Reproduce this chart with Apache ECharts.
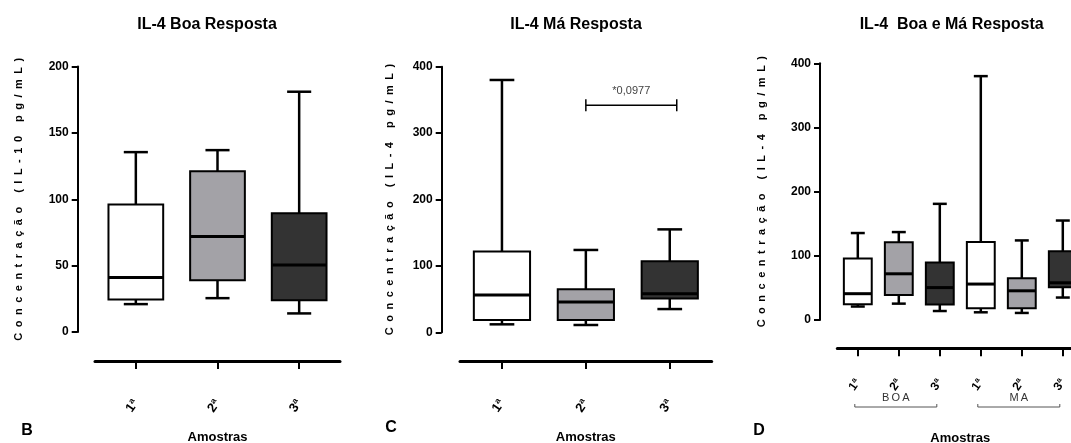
<!DOCTYPE html>
<html>
<head>
<meta charset="utf-8">
<script src="https://cdn.jsdelivr.net/npm/echarts@6/dist/echarts.min.js"></script>
<style>
  html, body { margin: 0; padding: 0; background: #fff; }
  #chart { width: 1071px; height: 443px; }
</style>
</head>
<body>
<div id="chart"></div>
<script>
// Sample labels and group names
const categories = ['1ª', '2ª', '3ª'];
const groupNames = ['BOA', 'MA'];

// Five-number summaries per sample: [min, Q1, median, Q3, max]
const boaStats = [
  [21, 24.5, 41, 96, 135.5],
  [25.5, 39, 72, 121, 137],
  [14, 24, 50.5, 89.5, 181]
];
const maStats = [
  [12, 18.5, 56, 121.5, 380],
  [11, 18.5, 45.5, 65, 124],
  [35, 51, 58, 107, 155]
];

// Y axis tick values
const boaTicks = [0, 50, 100, 150, 200];
const maTicks = [0, 100, 200, 300, 400];

// Comparison bracket between 2ª and 3ª (Má Resposta)
const comparisonPair = [1, 2];
const comparisonLevel = 342;
const comparisonText = '*0,0977';

const NARROW = '"Liberation Sans Narrow", "Liberation Sans", Arial, sans-serif';
const SANS = '"Liberation Sans", Arial, sans-serif';
const boxFills = ['#ffffff', '#a3a2a7', '#333333'];

const spaced = (s, sep) => Array.from(s).join(sep);

function boxRenderer(widthRatio, capRatio) {
  return function (params, api) {
    const cat = api.value(0);
    const yOf = (v) => api.coord([cat, v])[1];
    const cx = api.coord([cat, 0])[0];
    const yMin = yOf(api.value(1)), yQ1 = yOf(api.value(2)), yMed = yOf(api.value(3));
    const yQ3 = yOf(api.value(4)), yMax = yOf(api.value(5));
    const band = api.size([1, 0])[0];
    const w = band * widthRatio;
    const cap = w * capRatio;
    const line = { stroke: '#000', lineWidth: 2.5 };
    return {
      type: 'group',
      children: [
        { type: 'line', shape: { x1: cx, y1: yQ3, x2: cx, y2: yMax }, style: line },
        { type: 'line', shape: { x1: cx - cap / 2, y1: yMax, x2: cx + cap / 2, y2: yMax }, style: line },
        { type: 'line', shape: { x1: cx, y1: yQ1, x2: cx, y2: yMin }, style: line },
        { type: 'line', shape: { x1: cx - cap / 2, y1: yMin, x2: cx + cap / 2, y2: yMin }, style: line },
        { type: 'rect', shape: { x: cx - w / 2, y: yQ3, width: w, height: yQ1 - yQ3 },
          style: { fill: boxFills[api.value(6)], stroke: '#000', lineWidth: 2 } },
        { type: 'line', shape: { x1: cx - w / 2, y1: yMed, x2: cx + w / 2, y2: yMed },
          style: { stroke: '#000', lineWidth: 3 } }
      ]
    };
  };
}

const toRows = (stats, startIndex) => stats.map((s, i) => [startIndex + i].concat(s, [i]));

function yAxisFor(gridIndex, ticks, name, offset, nameGap) {
  return {
    gridIndex, type: 'value',
    min: ticks[0], max: ticks[ticks.length - 1], interval: ticks[1] - ticks[0],
    offset,
    axisLine: { show: true, onZero: false, lineStyle: { color: '#000', width: 2 } },
    axisTick: { show: true, length: 6, lineStyle: { color: '#000', width: 2 } },
    splitLine: { show: false },
    axisLabel: { color: '#000', fontFamily: NARROW, fontWeight: 'bold', fontSize: 12, margin: 9 },
    name: spaced(name, '\u2002'),
    nameLocation: 'middle', nameGap,
    nameTextStyle: { color: '#000', fontFamily: SANS, fontWeight: 'bold', fontSize: 11 }
  };
}

function xAxisFor(gridIndex, data, offset, labelMargin, nameGap, labelSize) {
  return {
    gridIndex, type: 'category', data, offset,
    axisLine: { show: true, onZero: false, lineStyle: { color: '#000', width: 3 } },
    axisTick: { show: true, alignWithLabel: true, length: 8, lineStyle: { color: '#000', width: 2 } },
    axisLabel: { interval: 0, rotate: 55, margin: labelMargin, color: '#000',
      fontFamily: NARROW, fontWeight: 'bold', fontSize: labelSize },
    name: 'Amostras', nameLocation: 'middle', nameGap,
    nameTextStyle: { color: '#000', fontFamily: NARROW, fontWeight: 'bold', fontSize: 13 }
  };
}

const chart = echarts.init(document.getElementById('chart'), null, { renderer: 'canvas' });

const titleStyle = { fontFamily: NARROW, fontWeight: 'bold', fontSize: 16, fill: '#000',
  textAlign: 'center', textVerticalAlign: 'middle' };
const letterStyle = { fontFamily: NARROW, fontWeight: 'bold', fontSize: 16, fill: '#000',
  textAlign: 'center', textVerticalAlign: 'middle' };

chart.setOption({
  animation: false,
  backgroundColor: '#fff',
  grid: [
    { left: 95, top: 66.5, width: 245, height: 265.5, outerBoundsMode: 'none', containLabel: false },
    { left: 460, top: 66.7, width: 251.7, height: 265.6, outerBoundsMode: 'none', containLabel: false },
    { left: 837.3, top: 63.3, width: 246, height: 256.7, outerBoundsMode: 'none', containLabel: false }
  ],
  xAxis: [
    xAxisFor(0, categories, 29, 40, 70, 13),
    xAxisFor(1, categories, 28.7, 40, 70, 13),
    xAxisFor(2, categories.concat(categories), 28.3, 32, 84, 12)
  ],
  yAxis: [
    yAxisFor(0, boaTicks, 'Concentração (IL-10 pg/mL)', 17.3, 53),
    yAxisFor(1, maTicks, 'Concentração (IL-4 pg/mL)', 18.3, 46),
    yAxisFor(2, maTicks, 'Concentração (IL-4 pg/mL)', 17.3, 53)
  ],
  graphic: [
    { type: 'text', x: 207, y: 25, style: Object.assign({ text: 'IL-4 Boa Resposta' }, titleStyle) },
    { type: 'text', x: 576, y: 25, style: Object.assign({ text: 'IL-4 Má Resposta' }, titleStyle) },
    { type: 'text', x: 951.7, y: 25, style: Object.assign({ text: 'IL-4  Boa e Má Resposta' }, titleStyle) },
    { type: 'text', x: 27, y: 431, style: Object.assign({ text: 'B' }, letterStyle) },
    { type: 'text', x: 391, y: 428, style: Object.assign({ text: 'C' }, letterStyle) },
    { type: 'text', x: 759, y: 431, style: Object.assign({ text: 'D' }, letterStyle) }
  ],
  series: [
    {
      type: 'custom', xAxisIndex: 0, yAxisIndex: 0,
      renderItem: boxRenderer(0.67, 0.44),
      encode: { x: 0, y: [1, 2, 3, 4, 5] },
      data: toRows(boaStats, 0)
    },
    {
      type: 'custom', xAxisIndex: 1, yAxisIndex: 1,
      renderItem: boxRenderer(0.67, 0.44),
      encode: { x: 0, y: [1, 2, 3, 4, 5] },
      data: toRows(maStats, 0)
    },
    {
      type: 'custom', xAxisIndex: 1, yAxisIndex: 1,
      renderItem: function (params, api) {
        const [x1, y] = api.coord([api.value(0), api.value(2)]);
        const x2 = api.coord([api.value(1), api.value(2)])[0] + 7;
        const ls = { stroke: '#000', lineWidth: 1.5 };
        return {
          type: 'group',
          children: [
            { type: 'line', shape: { x1, y1: y, x2, y2: y }, style: ls },
            { type: 'line', shape: { x1, y1: y - 6, x2: x1, y2: y + 6 }, style: ls },
            { type: 'line', shape: { x1: x2, y1: y - 6, x2, y2: y + 6 }, style: ls },
            { type: 'text', style: { text: comparisonText, x: (x1 + x2) / 2, y: y - 14,
              align: 'center', verticalAlign: 'middle', fill: '#444',
              font: '11px ' + NARROW } }
          ]
        };
      },
      encode: { x: [0, 1], y: 2 },
      data: [[comparisonPair[0], comparisonPair[1], comparisonLevel]]
    },
    {
      type: 'custom', xAxisIndex: 2, yAxisIndex: 2,
      renderItem: boxRenderer(0.68, 0.5),
      encode: { x: 0, y: [1, 2, 3, 4, 5] },
      data: toRows(boaStats, 0).concat(toRows(maStats, 3))
    },
    {
      type: 'custom', xAxisIndex: 2, yAxisIndex: 2,
      renderItem: function (params, api) {
        const x1 = api.coord([api.value(0), 0])[0] - 3;
        const x2 = api.coord([api.value(1), 0])[0] - 3;
        const y = api.coord([0, 0])[1] + 87;
        return {
          type: 'group',
          children: [
            { type: 'polyline', shape: { points: [[x1, y - 3], [x1, y], [x2, y], [x2, y - 3]] },
              style: { stroke: '#555', lineWidth: 1, fill: null } },
            { type: 'text', style: { text: spaced(groupNames[params.dataIndex], '\u2009'),
              x: (x1 + x2) / 2, y: y - 9, align: 'center', verticalAlign: 'middle',
              fill: '#333', font: '11px ' + NARROW } }
          ]
        };
      },
      encode: { x: [0, 1] },
      data: [[0, 2], [3, 5]]
    }
  ]
});
</script>
</body>
</html>
